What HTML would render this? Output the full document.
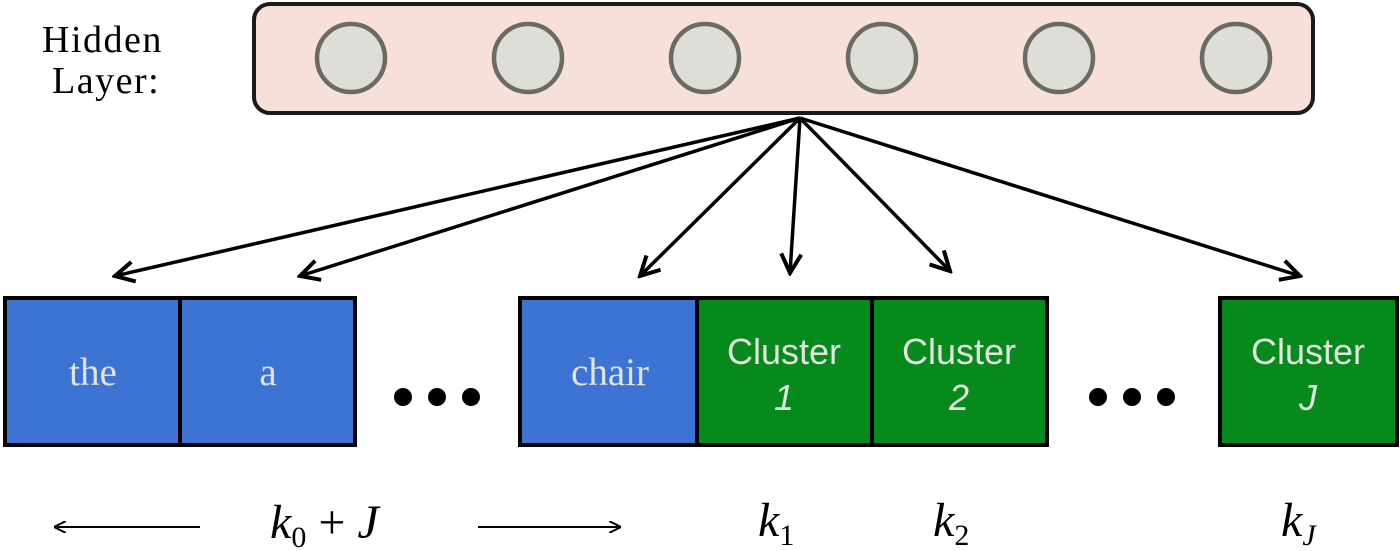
<!DOCTYPE html>
<html><head><meta charset="utf-8"><style>
body{margin:0;background:#fff;}
svg{display:block;}
</style></head><body>
<svg width="1400" height="551" viewBox="0 0 1400 551" xmlns="http://www.w3.org/2000/svg">
<defs>
<marker id="ah" markerWidth="12" markerHeight="12" refX="11" refY="6" orient="auto" markerUnits="userSpaceOnUse" viewBox="0 0 12 12">
<path d="M0,0 L12,6 L0,12" fill="none" stroke="#000" stroke-width="2"/>
</marker>
<marker id="ah2" markerWidth="24" markerHeight="24" refX="21" refY="12" orient="auto" markerUnits="userSpaceOnUse">
<path d="M2,2 L21,12 L2,22" fill="none" stroke="#000" stroke-width="4"/>
</marker>
</defs>
<g font-family="Liberation Serif, serif" font-size="38" letter-spacing="1.5" fill="#000">
<text x="42" y="52">Hidden</text>
<text x="52" y="93">Layer:</text>
</g>
<rect x="254" y="4" width="1059" height="109" rx="16" fill="#f6e0d9" stroke="#1a1a1a" stroke-width="4"/>
<g fill="#dfddd7" stroke="#6b6b63" stroke-width="4.5">
<circle cx="351" cy="58" r="34"/><circle cx="528" cy="58" r="34"/><circle cx="705" cy="58" r="34"/>
<circle cx="882" cy="58" r="34"/><circle cx="1059" cy="58" r="34"/><circle cx="1236" cy="58" r="34"/>
</g>
<g stroke="#000" stroke-width="3.5" fill="none" marker-end="url(#ah2)">
<line x1="800" y1="118" x2="115" y2="276"/>
<line x1="800" y1="118" x2="300" y2="276"/>
<line x1="800" y1="118" x2="640" y2="276"/>
<line x1="800" y1="118" x2="790" y2="273"/>
<line x1="800" y1="118" x2="950" y2="271"/>
<line x1="800" y1="118" x2="1300" y2="276"/>
</g>
<g stroke="#000" stroke-width="4">
<rect x="5" y="298" width="175" height="147" fill="#3d74d3"/>
<rect x="180" y="298" width="175" height="147" fill="#3d74d3"/>
<rect x="520" y="298" width="177" height="147" fill="#3d74d3"/>
<rect x="697" y="298" width="175" height="147" fill="#068a1b"/>
<rect x="872" y="298" width="175" height="147" fill="#068a1b"/>
<rect x="1220" y="298" width="177" height="147" fill="#068a1b"/>
</g>
<g fill="#e3e3df" text-anchor="middle">
<g font-family="Liberation Serif, serif" font-size="39">
<text x="93" y="385">the</text>
<text x="268" y="385">a</text>
<text x="610" y="385">chair</text>
</g>
<g font-family="Liberation Sans, sans-serif" font-size="36">
<text x="784" y="364">Cluster<tspan x="784" y="410" font-style="italic">1</tspan></text>
<text x="959" y="364">Cluster<tspan x="959" y="410" font-style="italic">2</tspan></text>
<text x="1308" y="364">Cluster<tspan x="1308" y="410" font-style="italic">J</tspan></text>
</g>
</g>
<g fill="#000">
<circle cx="403" cy="397" r="9"/><circle cx="437" cy="397" r="9"/><circle cx="471" cy="397" r="9"/>
<circle cx="1098" cy="397" r="9"/><circle cx="1132" cy="397" r="9"/><circle cx="1166" cy="397" r="9"/>
</g>
<g stroke="#000" stroke-width="2" marker-end="url(#ah)">
<line x1="200" y1="527" x2="55" y2="527"/>
<line x1="478" y1="527" x2="620" y2="527"/>
</g>
<g font-family="Liberation Serif, serif" font-size="48" font-style="italic" fill="#000">
<text x="270" y="538">k<tspan font-size="30" font-style="normal" dy="9">0</tspan><tspan dy="-9" font-style="normal"> + </tspan>J</text>
<text x="758" y="536">k<tspan font-size="30" font-style="normal" dy="9">1</tspan></text>
<text x="933" y="536">k<tspan font-size="30" font-style="normal" dy="9">2</tspan></text>
<text x="1281" y="536">k<tspan font-size="30" dy="9">J</tspan></text>
</g>
</svg>
</body></html>
